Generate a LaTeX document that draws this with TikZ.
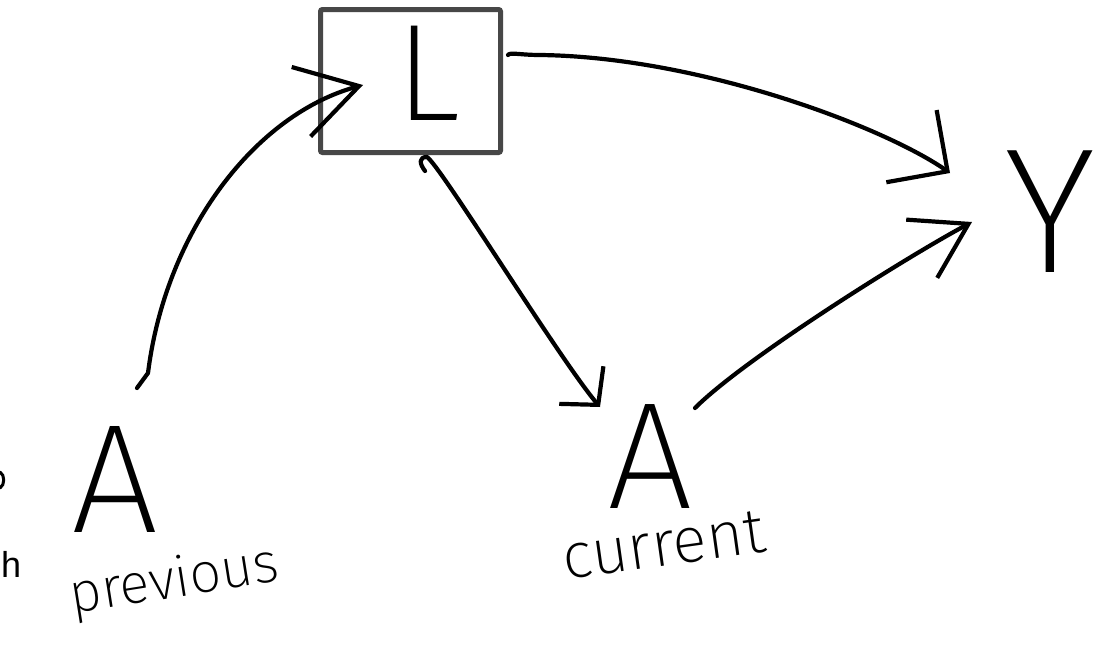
\documentclass[tikz,border=0pt]{standalone}
\usepackage{fontspec}
\usetikzlibrary{arrows.meta}
\newfontfamily\hand{Fira Sans ExtraLight}
\newfontfamily\typed{Liberation Sans}
\definecolor{boxgray}{HTML}{474747}
\begin{document}
\begin{tikzpicture}[x=1pt,y=-1pt,
  ink/.style={line width=4.2pt, line cap=round, line join=round, black},
  conn/.style 2 args={ink, -{Straight Barb[length=#1pt,width=#2pt]}},
  letter/.style={font=\hand\fontsize{#1}{#1}\selectfont, inner sep=0pt, anchor=base},
  word/.style={font=\hand\fontsize{#1}{#1}\selectfont, inner sep=0pt, anchor=base west},
  frame/.style={draw=boxgray, line width=5pt, rounded corners=2pt, inner sep=0pt}
]
\useasboundingbox[fill=white] (0,0) rectangle (1113,653);

% nodes
\node[frame, minimum width=180pt, minimum height=143pt] (Lbox) at (410.5,81) {};
\node[letter=138] (L) at (428,120) {L};
\node[letter=178] (Y) at (1050,272) {Y};
\node[letter=155] (Aprev) at (115,532) {A};
\node[letter=152] (Acur) at (650,508) {A};
\node[word=56, rotate=9] (prev) at (72,614) {previous};
\node[word=64, rotate=8] (cur) at (565,580) {current};
\node[font=\typed\fontsize{36}{36}\selectfont, inner sep=0pt, anchor=base west] (h) at (1,577) {h};

% connector end points
\coordinate (p1s) at (137,388);
\coordinate (p1e) at (363,85);
\coordinate (p2s) at (508,55);
\coordinate (p2e) at (950,173);
\coordinate (p3s) at (425,171);
\coordinate (p3e) at (600,407);
\coordinate (p4s) at (695,408);
\coordinate (p4e) at (972,222);

% previous A -> L
\draw[conn={60}{72}] (p1s) -- (148,373) .. controls (166,230) and (256,114) .. (p1e);
% L -> Y
\draw[conn={44}{88}] (p2s) .. controls (510,52) and (520,55) .. (540,55)
   .. controls (700,57) and (884,127) .. (p2e);
% L -> current A
\draw[conn={26}{58}] (p3s) .. controls (419,163) and (419,157) .. (427,157)
   .. controls (440,165) and (560,360) .. (p3e);
% current A -> Y
\draw[conn={53}{66}] (p4s) .. controls (745,358) and (910,255) .. (p4e);

% stray mark at left edge
\draw[ink, line width=3pt] (0,472) .. controls (5,475) and (5,485) .. (0,488);
\end{tikzpicture}
\end{document}
